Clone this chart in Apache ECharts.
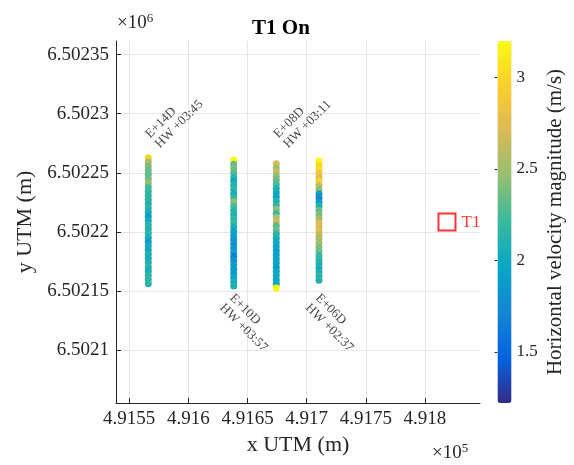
<!DOCTYPE html>
<html>
<head>
<meta charset="UTF-8">
<script src="https://cdn.jsdelivr.net/npm/echarts@6/dist/echarts.min.js"></script>
<style>
html, body { margin: 0; padding: 0; background: #fff; }
#chart { width: 574px; height: 465px; }
</style>
</head>
<body>
<div id="chart"></div>
<script>
// transect positions (x UTM) and bin positions (y UTM)
var colX = [491566.1, 491638.3, 491674.3, 491710.4];
var colY1 = [6502262.8, 6502259.3, 6502255.7, 6502252.2, 6502248.6, 6502245.1, 6502241.5, 6502238.0, 6502234.4, 6502230.9,
	6502227.3, 6502223.8, 6502220.2, 6502216.7, 6502213.1, 6502209.6, 6502206.0, 6502202.5, 6502198.9, 6502195.4,
	6502191.8, 6502188.3, 6502184.7, 6502181.2, 6502177.6, 6502174.1, 6502170.5, 6502167.0, 6502163.4, 6502159.9, 6502156.3];
var colY2 = [6502260.8, 6502257.3, 6502253.7, 6502250.2, 6502246.6, 6502243.1, 6502239.5, 6502236.0, 6502232.4, 6502228.9,
	6502225.3, 6502221.8, 6502218.2, 6502214.7, 6502211.1, 6502207.6, 6502204.0, 6502200.5, 6502196.9, 6502193.4,
	6502189.8, 6502186.3, 6502182.7, 6502179.2, 6502175.6, 6502172.1, 6502168.5, 6502165.0, 6502161.4, 6502157.9, 6502154.4];
var colY3 = [6502257.7, 6502254.2, 6502250.7, 6502247.2, 6502243.7, 6502240.2, 6502236.7, 6502233.2, 6502229.7, 6502226.2,
	6502222.7, 6502219.2, 6502215.7, 6502212.2, 6502208.7, 6502205.2, 6502201.7, 6502198.2, 6502194.7, 6502191.2,
	6502187.7, 6502184.2, 6502180.7, 6502177.2, 6502173.7, 6502170.2, 6502166.7, 6502163.2, 6502159.7, 6502156.2, 6502152.7];
var colY4 = [6502260.0, 6502256.5, 6502253.0, 6502249.6, 6502246.1, 6502242.6, 6502239.1, 6502235.7, 6502232.2, 6502228.7,
	6502225.2, 6502221.8, 6502218.3, 6502214.8, 6502211.3, 6502207.9, 6502204.4, 6502200.9, 6502197.4, 6502194.0,
	6502190.5, 6502187.0, 6502183.5, 6502180.0, 6502176.6, 6502173.1, 6502169.6, 6502166.1, 6502162.7, 6502159.2];

// horizontal velocity magnitude (m/s), top to bottom
var vel1 = [3.0, 2.55, 2.4, 2.35, 2.3, 2.35, 2.5, 2.25, 2.2, 2.15, 2.15, 2.1, 2.15, 2.05, 1.9, 2.05, 2.15, 2.1, 2.15, 2.05,
	1.9, 2.05, 2.0, 2.1, 2.05, 2.1, 2.15, 2.05, 2.15, 2.15, 2.15];
var vel2 = [3.2, 2.35, 2.4, 2.3, 2.15, 2.0, 2.1, 2.15, 2.05, 2.2, 2.45, 2.25, 2.15, 2.1, 2.15, 2.2, 2.05, 1.95, 1.9, 1.85,
	1.8, 1.85, 1.9, 1.65, 1.8, 1.9, 1.85, 1.9, 1.95, 2.05, 2.1];
var vel3 = [2.7, 2.5, 2.65, 2.45, 2.35, 2.25, 2.1, 2.0, 1.95, 2.1, 2.15, 2.45, 2.2, 2.55, 2.65, 2.3, 2.35, 2.15, 2.05, 2.0,
	1.95, 1.9, 1.9, 1.95, 1.95, 1.9, 1.95, 2.0, 1.95, 2.0, 3.25];
var vel4 = [3.2, 3.0, 3.05, 2.85, 2.75, 2.95, 2.6, 2.45, 1.9, 1.75, 1.9, 2.1, 2.35, 2.4, 2.5, 2.7, 2.7, 2.75, 2.6, 2.55,
	2.5, 2.4, 2.35, 2.2, 2.15, 2.1, 2.05, 2.1, 2.15, 2.1];

// transect annotations
var annText = ['E+14D\nHW +03:45', 'E+08D\nHW +03:11', 'E+10D\nHW +03:57', 'E+06D\nHW +02:37'];
var annX = [491569.6, 491678.1, 491632.3, 491704.9];
var annY = [6502276.9, 6502276.9, 6502141.7, 6502141.7];
var annRot = [45, 45, -45, -45];

// turbine T1
var turbineX = 491818.6, turbineY = 6502208.4;

var parula = ['#352a87', '#0363e1', '#1485d4', '#06a7c6', '#38b99e', '#92bf73', '#d9ba56', '#fcce2e', '#f9fb0e'];
var FONT = 'Liberation Serif';
var INK = '#262626';

var colYs = [colY1, colY2, colY3, colY4];
var vels = [vel1, vel2, vel3, vel4];

var series = [];
for (var i = 0; i < 4; i++) {
	var pts = [];
	for (var j = 0; j < colYs[i].length; j++) {
		pts.push([colX[i], colYs[i][j], vels[i][j]]);
	}
	series.push({
		type: 'scatter',
		data: pts,
		symbolSize: 7,
		itemStyle: { opacity: 1 }
	});
}

var annData = [];
for (var k = 0; k < annText.length; k++) {
	annData.push({
		value: [annX[k], annY[k]],
		label: { formatter: annText[k], rotate: annRot[k] }
	});
}
series.push({
	type: 'scatter',
	data: annData,
	symbolSize: 0,
	silent: true,
	label: {
		show: true,
		position: 'inside',
		align: 'left',
		verticalAlign: 'middle',
		fontFamily: FONT,
		fontSize: 13,
		lineHeight: 14,
		color: '#111'
	}
});

series.push({
	type: 'scatter',
	data: [[turbineX, turbineY]],
	symbol: 'rect',
	symbolSize: 17,
	silent: true,
	itemStyle: { color: 'rgba(0,0,0,0)', borderColor: '#ff0000', borderWidth: 2 },
	label: {
		show: true,
		position: 'right',
		distance: 5,
		formatter: 'T1',
		fontFamily: FONT,
		fontSize: 17,
		color: '#ff0000'
	}
});

var chart = echarts.init(document.getElementById('chart'));
chart.setOption({
	animation: false,
	backgroundColor: '#fff',
	title: {
		text: 'T1 On',
		left: 276,
		top: 13,
		textAlign: 'center',
		textStyle: { fontFamily: FONT, fontSize: 21, fontWeight: 'bold', color: '#000' }
	},
	grid: [
		{ left: 116, right: 94, top: 41, bottom: 62 },
		{ left: 497.5, width: 14, top: 41, bottom: 62 }
	],
	xAxis: [{
		type: 'value',
		min: 491538.8,
		max: 491846.5,
		splitNumber: 5,
		name: 'x UTM (m)',
		nameLocation: 'middle',
		nameGap: 30,
		nameTextStyle: { fontFamily: FONT, fontSize: 22, color: INK },
		axisLine: { lineStyle: { color: INK } },
		axisTick: { inside: true, length: 5, lineStyle: { color: INK } },
		splitLine: { show: true, showMinLine: false, showMaxLine: false, lineStyle: { color: '#e6e6e6' } },
		axisLabel: {
			fontFamily: FONT, fontSize: 19, color: INK, margin: 7,
			showMinLabel: false, showMaxLabel: false,
			formatter: function (v) { return String(+(v / 1e5).toFixed(4)); }
		}
	}, {
		gridIndex: 1, type: 'value', show: false, min: 0, max: 1
	}],
	yAxis: [{
		type: 'value',
		min: 6502055.4,
		max: 6502361.5,
		splitNumber: 5,
		name: 'y UTM (m)',
		nameLocation: 'middle',
		nameGap: 69,
		nameTextStyle: { fontFamily: FONT, fontSize: 22, color: INK },
		axisLine: { show: true, lineStyle: { color: INK } },
		axisTick: { inside: true, length: 5, lineStyle: { color: INK } },
		splitLine: { show: true, showMinLine: false, showMaxLine: false, lineStyle: { color: '#e6e6e6' } },
		axisLabel: {
			fontFamily: FONT, fontSize: 19, color: INK, margin: 7,
			showMinLabel: false, showMaxLabel: false,
			formatter: function (v) { return String(+(v / 1e6).toFixed(5)); }
		}
	}, {
		gridIndex: 1,
		type: 'value',
		position: 'right',
		min: 1.22,
		max: 3.2,
		splitNumber: 4,
		name: 'Horizontal velocity magnitude (m/s)',
		nameLocation: 'middle',
		nameRotate: 90,
		nameGap: 33,
		nameTextStyle: { fontFamily: FONT, fontSize: 21, color: INK },
		axisLine: { show: false },
		axisTick: { inside: true, length: 3, lineStyle: { color: INK } },
		splitLine: { show: false },
		axisLabel: {
			fontFamily: FONT, fontSize: 17, color: INK, margin: 5,
			showMinLabel: false, showMaxLabel: false
		}
	}],
	visualMap: {
		type: 'continuous',
		seriesIndex: [0, 1, 2, 3],
		dimension: 2,
		min: 1.22,
		max: 3.2,
		calculable: false,
		left: 497.5,
		top: 41,
		itemWidth: 14,
		itemHeight: 362,
		padding: 0,
		text: null,
		showLabel: false,
		inRange: { color: parula }
	},
	graphic: [{
		type: 'text',
		left: 117,
		top: 12,
		style: {
			text: '{a|×10}{b|6}',
			rich: {
				a: { fontFamily: FONT, fontSize: 19, fill: INK, lineHeight: 22 },
				b: { fontFamily: FONT, fontSize: 13, fill: INK, verticalAlign: 'top', lineHeight: 22 }
			}
		}
	}, {
		type: 'text',
		left: 432,
		top: 442,
		style: {
			text: '{a|×10}{b|5}',
			rich: {
				a: { fontFamily: FONT, fontSize: 19, fill: INK, lineHeight: 22 },
				b: { fontFamily: FONT, fontSize: 13, fill: INK, verticalAlign: 'top', lineHeight: 22 }
			}
		}
	}],
	series: series
});
</script>
</body>
</html>
